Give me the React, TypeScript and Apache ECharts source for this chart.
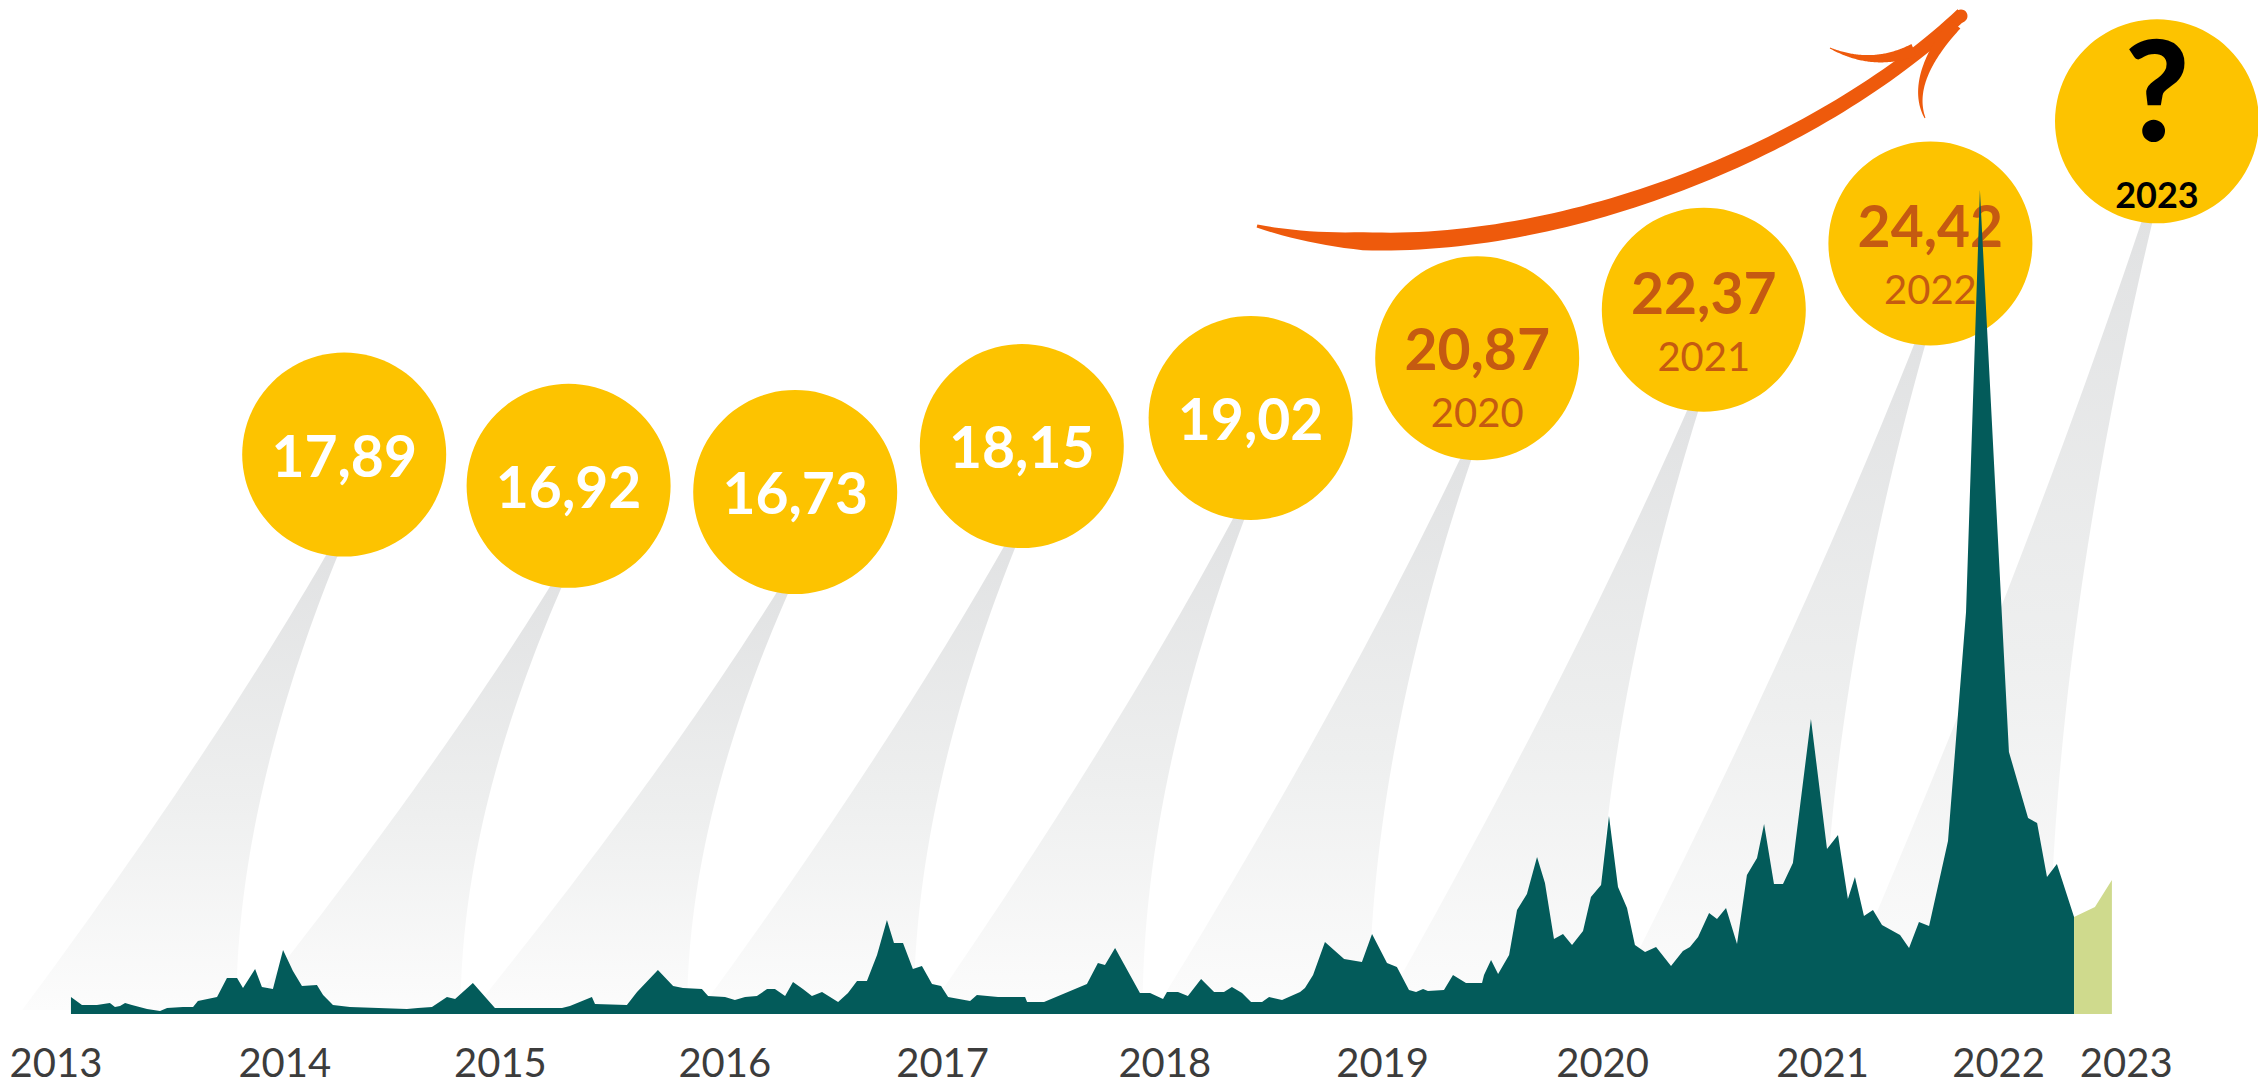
import React, { useEffect, useRef } from "react";
import * as echarts from "echarts";

// ---- Area (search-interest style index, 0..100), x in years since 2013 ----
const areaX = [
  0.068, 0.118, 0.186, 0.245, 0.268, 0.291, 0.314, 0.345, 0.414, 0.473,
  0.505, 0.577, 0.623, 0.645, 0.732, 0.777, 0.823, 0.85, 0.905, 0.936,
  0.986, 1.032, 1.077, 1.118, 1.186, 1.214, 1.259, 1.336, 1.595, 1.645,
  1.709, 1.777, 1.814, 1.895, 1.995, 2.3, 2.336, 2.436, 2.45, 2.595,
  2.641, 2.736, 2.805, 2.85, 2.936, 2.964, 3.041, 3.086, 3.132, 3.186,
  3.232, 3.268, 3.314, 3.35, 3.395, 3.436, 3.482, 3.555, 3.6, 3.641,
  3.686, 3.732, 3.777, 3.809, 3.85, 3.895, 3.936, 3.982, 4.023, 4.055,
  4.155, 4.186, 4.282, 4.405, 4.414, 4.491, 4.686, 4.736, 4.768, 4.814,
  4.927, 4.973, 5.032, 5.05, 5.1, 5.145, 5.205, 5.264, 5.309, 5.345,
  5.391, 5.432, 5.482, 5.514, 5.573, 5.655, 5.677, 5.714, 5.768, 5.855,
  5.936, 5.982, 6.05, 6.095, 6.15, 6.182, 6.214, 6.236, 6.309, 6.35,
  6.409, 6.482, 6.491, 6.523, 6.555, 6.605, 6.641, 6.686, 6.732, 6.768,
  6.809, 6.85, 6.891, 6.941, 6.977, 7.023, 7.059, 7.1, 7.141, 7.177,
  7.223, 7.273, 7.341, 7.395, 7.427, 7.464, 7.514, 7.55, 7.591, 7.641,
  7.686, 7.732, 7.764, 7.809, 7.85, 7.895, 7.977, 8.05, 8.1, 8.145,
  8.177, 8.218, 8.259, 8.3, 8.382, 8.423, 8.468, 8.514, 8.6, 8.682,
  8.745, 8.877, 8.964, 9.005, 9.05, 9.095, 9.173,
];
const areaY = [
  2.06, 1.09, 1.09, 1.33, 0.85, 0.97, 1.33, 1.09, 0.61, 0.36,
  0.73, 0.85, 0.85, 1.58, 2.06, 4.37, 4.37, 3.16, 5.46, 3.28,
  3.03, 7.77, 5.22, 3.4, 3.52, 2.31, 1.09, 0.85, 0.61, 0.73,
  0.85, 2.06, 1.82, 3.76, 0.73, 0.73, 0.97, 2.06, 1.21, 1.09,
  2.67, 5.34, 3.4, 3.16, 3.03, 2.18, 2.06, 1.7, 2.06, 2.18,
  3.03, 3.03, 2.18, 3.88, 3.03, 2.18, 2.67, 1.46, 2.55, 4.0,
  4.0, 7.16, 11.41, 8.62, 8.62, 5.46, 5.83, 3.64, 3.4, 2.06,
  1.58, 2.31, 2.06, 2.06, 1.46, 1.46, 3.64, 6.19, 5.95, 8.01,
  2.55, 2.55, 1.82, 2.67, 2.67, 2.18, 4.25, 2.67, 2.67, 3.28,
  2.55, 1.46, 1.46, 2.06, 1.7, 2.67, 3.16, 4.73, 8.74, 6.67,
  6.31, 9.71, 6.19, 5.7, 2.91, 2.67, 3.03, 2.79, 2.91, 4.73,
  3.76, 3.76, 4.73, 6.55, 4.85, 7.16, 12.62, 14.56, 19.05, 15.9,
  9.1, 9.71, 8.37, 10.07, 14.2, 15.66, 24.03, 15.41, 12.86, 8.37,
  7.52, 8.13, 5.83, 7.65, 8.13, 9.34, 12.26, 11.53, 12.86, 8.5,
  16.87, 18.93, 23.06, 15.78, 15.78, 18.33, 35.8, 20.02, 21.72, 13.96,
  16.63, 11.89, 12.62, 10.8, 9.59, 8.01, 11.17, 10.68, 21.0, 48.79,
  100.0, 31.8, 23.79, 23.18, 16.63, 18.2, 11.77,
];
const forecastX = [9.173, 9.268, 9.345];
const forecastY = [11.77, 12.99, 16.26];

// ---- Year tick labels (positions on the same x scale) ----
const yearLabels = ["2013", "2014", "2015", "2016", "2017", "2018", "2019", "2020", "2021", "2022", "2023"];
const yearLabelPos = [0, 1.04, 2.02, 3.04, 4.03, 5.04, 6.03, 7.03, 8.03, 8.83, 9.41];

// ---- Yearly value bubbles ----
const bubbleYears = ["2015", "2016", "2017", "2018", "2019", "2020", "2021", "2022", "2023"];
const bubbleValues: (number | null)[] = [17.89, 16.92, 16.73, 18.15, 19.02, 20.87, 22.37, 24.42, null];
const bubbleX = [1.31, 2.33, 3.36, 4.39, 5.43, 6.46, 7.49, 8.52, 9.55];
const questionLevel = 28.2; // placement level of the unknown 2023 bubble

const TEAL = "#035B5A";
const LIME = "#CFDA8D";
const YELLOW = "#FDC300";
const BROWN = "#C55A11";
const ORANGE = "#EE5A0C";
const FONT = "Lato, 'Noto Sans', sans-serif";
const BUBBLE_SIZE = 204;

type P = [number, number];

function cubic(p0: P, p1: P, p2: P, p3: P) {
  return (t: number): P => {
    const u = 1 - t;
    return [
      u * u * u * p0[0] + 3 * u * u * t * p1[0] + 3 * u * t * t * p2[0] + t * t * t * p3[0],
      u * u * u * p0[1] + 3 * u * u * t * p1[1] + 3 * u * t * t * p2[1] + t * t * t * p3[1],
    ];
  };
}
function quad(p0: P, c: P, p2: P) {
  return (t: number): P => {
    const u = 1 - t;
    return [u * u * p0[0] + 2 * u * t * c[0] + t * t * p2[0], u * u * p0[1] + 2 * u * t * c[1] + t * t * p2[1]];
  };
}
function taper(fn: (t: number) => P, wfn: (t: number) => number, n = 80): P[] {
  const l: P[] = [];
  const r: P[] = [];
  for (let i = 0; i <= n; i++) {
    const t = i / n;
    const p = fn(t);
    const a = fn(Math.max(0, t - 0.002));
    const b = fn(Math.min(1, t + 0.002));
    const dx = b[0] - a[0];
    const dy = b[1] - a[1];
    const len = Math.hypot(dx, dy) || 1;
    const nx = -dy / len;
    const ny = dx / len;
    const w = wfn(t) / 2;
    l.push([p[0] + nx * w, p[1] + ny * w]);
    r.push([p[0] - nx * w, p[1] - ny * w]);
  }
  return l.concat(r.reverse());
}

function conePoints(ax: number, ay: number, bottom: number): P[] {
  const H = bottom - ay;
  const left: P[] = [];
  const right: P[] = [];
  for (let i = 0; i <= 48; i++) {
    const t = i / 48;
    const u = 1 - t;
    const lx = 2 * u * t * -120 + t * t * -310;
    const lf = 2 * u * t * 0.45 + t * t;
    left.push([ax - 6 + lx, ay + lf * H]);
    const rx = 2 * u * t * -106 + t * t * -106;
    const rf = 2 * u * t * 0.55 + t * t;
    right.push([ax + 4 + rx, ay + rf * H]);
  }
  return left.concat(right.reverse());
}

function fmt(v: number) {
  return v.toFixed(2).replace(".", ",");
}

export default function App() {
  const ref = useRef<HTMLDivElement>(null);

  useEffect(() => {
    if (!ref.current) return;
    const chart = echarts.init(ref.current, null, { renderer: "svg" });

    const gridBase = { left: 56, right: 46 };
    const option: any = {
      animation: false,
      backgroundColor: "#ffffff",
      grid: [
        { ...gridBase, top: 190, bottom: 71 },
        { ...gridBase, top: 224.7, bottom: 569.4 },
      ],
      xAxis: [
        {
          type: "value",
          gridIndex: 0,
          min: 0,
          max: 9.8,
          axisLine: { show: false },
          axisTick: { show: false },
          splitLine: { show: false },
          axisLabel: {
            show: true,
            customValues: yearLabelPos,
            margin: 32,
            lineHeight: 32,
            color: "#3C3C3C",
            fontFamily: FONT,
            fontSize: 40,
            formatter: (v: number) => {
              let best = 0;
              for (let i = 1; i < yearLabelPos.length; i++) {
                if (Math.abs(yearLabelPos[i] - v) < Math.abs(yearLabelPos[best] - v)) best = i;
              }
              return yearLabels[best];
            },
          },
        },
        { type: "value", gridIndex: 1, min: 0, max: 9.8, show: false },
      ],
      yAxis: [
        { type: "value", gridIndex: 0, min: 0, max: 100, show: false },
        { type: "value", gridIndex: 1, min: 16, max: 25, show: false },
      ],
      series: [
        {
          type: "scatter",
          xAxisIndex: 1,
          yAxisIndex: 1,
          z: 4,
          clip: false,
          silent: true,
          symbol: "circle",
          symbolSize: BUBBLE_SIZE,
          itemStyle: { color: YELLOW, opacity: 1 },
          data: bubbleX.map((x, i) => {
            const v = bubbleValues[i];
            const item: any = { value: [x, v == null ? questionLevel : v] };
            if (v != null && i >= 5) item.label = { offset: [0, i === 5 ? 22 : 14] };
            return item;
          }),
          label: {
            show: true,
            position: "inside",
            formatter: (p: any) => {
              const i = p.dataIndex;
              const v = bubbleValues[i];
              if (v == null) return "{q|?}\n{k|" + bubbleYears[i] + "}";
              if (i >= 5) return "{v|" + fmt(v) + "}\n{y|" + bubbleYears[i] + "}";
              return "{w|" + fmt(v) + "}";
            },
            rich: {
              w: { color: "#ffffff", fontFamily: FONT, fontWeight: "bold", fontSize: 57 },
              v: { color: BROWN, fontFamily: FONT, fontWeight: "bold", fontSize: 57, lineHeight: 64 },
              y: { color: BROWN, fontFamily: FONT, fontWeight: "normal", fontSize: 40, lineHeight: 64 },
              q: { color: "#000000", fontFamily: FONT, fontWeight: 900, fontSize: 140, lineHeight: 146 },
              k: { color: "#000000", fontFamily: FONT, fontWeight: "bold", fontSize: 36, lineHeight: 68 },
            },
          },
        },
        {
          type: "line",
          xAxisIndex: 0,
          yAxisIndex: 0,
          z: 6,
          silent: true,
          symbol: "none",
          lineStyle: { width: 0, color: TEAL },
          areaStyle: { color: TEAL, opacity: 1 },
          data: areaX.map((x, i) => [x, areaY[i]]),
        },
        {
          type: "line",
          xAxisIndex: 0,
          yAxisIndex: 0,
          z: 6,
          silent: true,
          symbol: "none",
          lineStyle: { width: 0, color: LIME },
          areaStyle: { color: LIME, opacity: 1 },
          data: forecastX.map((x, i) => [x, forecastY[i]]),
        },
      ],
    };
    chart.setOption(option);

    // cones under each bubble, anchored at the bubble's pixel position
    const r = BUBBLE_SIZE / 2;
    const coneEls = bubbleX.map((x, i) => {
      const v = bubbleValues[i];
      const [cx, cy] = chart.convertToPixel({ gridIndex: 1 } as any, [x, v == null ? questionLevel : v]) as number[];
      return {
        type: "polygon",
        z: 1,
        silent: true,
        shape: { points: conePoints(cx - 6, cy + r - 12, 1010) },
        style: {
          fill: new echarts.graphic.LinearGradient(0, 0, 0, 1, [
            { offset: 0, color: "#E1E2E3" },
            { offset: 0.55, color: "#EEEFEF" },
            { offset: 1, color: "#FCFCFC" },
          ]),
        },
      };
    });

    // orange growth arrow
    const shaft = cubic([1257, 226], [1480, 285], [1800, 168], [1962, 14]);
    const shaftPts = taper(shaft, (t) => (t < 0.15 ? 3 + 15 * (t / 0.15) : 18 - 5 * ((t - 0.15) / 0.85)));
    const barb1 = taper(quad([1914, 50], [1872, 68], [1830, 48]), (t) => 13 - 12 * t);
    const barb2 = taper(quad([1955, 24], [1908, 80], [1925, 118]), (t) => 14 - 13 * t);
    const arrowEls = [
      { type: "polygon", z: 10, silent: true, shape: { points: shaftPts }, style: { fill: ORANGE } },
      { type: "polygon", z: 10, silent: true, shape: { points: barb1 }, style: { fill: ORANGE } },
      { type: "polygon", z: 10, silent: true, shape: { points: barb2 }, style: { fill: ORANGE } },
      { type: "circle", z: 10, silent: true, shape: { cx: 1961, cy: 16, r: 6.5 }, style: { fill: ORANGE } },
    ];

    chart.setOption({ graphic: { elements: [...coneEls, ...arrowEls] } });

    return () => chart.dispose();
  }, []);

  return (
    <div
      ref={ref}
      style={{ position: "fixed", left: 0, top: 0, width: 2258, height: 1085, background: "#ffffff" }}
    />
  );
}
